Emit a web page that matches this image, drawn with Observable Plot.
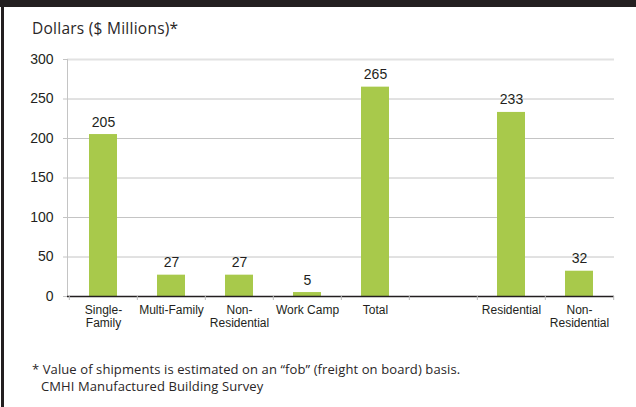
<!DOCTYPE html>
<html>
<head>
<meta charset="utf-8">
<script src="https://cdn.jsdelivr.net/npm/d3@7"></script>
<script src="https://cdn.jsdelivr.net/npm/@observablehq/plot@0.6"></script>
<style>
  html, body { margin: 0; padding: 0; background: #fff; }
  #wrap { position: relative; width: 636px; height: 407px; overflow: hidden; background: #fff; }
  #topbar { position: absolute; left: 0; top: 0; width: 636px; height: 7px; background: #231f20; }
  #leftbar { position: absolute; left: 1px; top: 0; width: 3px; height: 407px; background: #231f20; }
  #title { position: absolute; left: 32px; top: 17px; font-family: "Open Sans", sans-serif; font-size: 15.5px; letter-spacing: 0.25px; color: #2a2627; white-space: nowrap; }
  #chart { position: absolute; left: 0; top: 0; }
  .note { position: absolute; font-family: "Open Sans", sans-serif; font-size: 13px; letter-spacing: 0.1px; color: #2a2627; white-space: nowrap; }
</style>
</head>
<body>
<div id="wrap">
  <div id="topbar"></div>
  <div id="leftbar"></div>
  <div id="chart"></div>
  <div id="title">Dollars ($ Millions)*</div>
  <div class="note" style="left:32px; top:360px;">* Value of shipments is estimated on an “fob” (freight on board) basis.</div>
  <div class="note" style="left:41px; top:377px;">CMHI Manufactured Building Survey</div>
</div>
<script>
const keys = ["sf", "mf", "nr1", "wc", "total", "gap", "res", "nr2"];
const labels = ["Single-\nFamily", "Multi-Family", "Non-\nResidential", "Work Camp", "Total", "", "Residential", "Non-\nResidential"];
const values = [205, 27, 27, 5, 265, null, 233, 32];
const yTicks = [0, 50, 100, 150, 200, 250, 300];

const data = keys.map((k, i) => ({key: k, label: labels[i], value: values[i]})).filter(d => d.value != null);
const labelOf = new Map(keys.map((k, i) => [k, labels[i]]));

const W = 636, H = 340, mL = 67, mR = 22;
const step = (W - mL - mR) / keys.length;

const chart = Plot.plot({
  width: W,
  height: H,
  marginTop: 59,
  marginBottom: 44,
  marginLeft: mL,
  marginRight: mR,
  style: {fontFamily: "Arial, 'Liberation Sans', sans-serif", color: "#231f20", background: "transparent"},
  x: {domain: keys, paddingInner: 0.59, paddingOuter: 0.295, axis: null, label: null},
  y: {domain: [0, 300], axis: null, label: null},
  marks: [
    Plot.ruleY(yTicks.filter(t => t > 0 && t < 300), {stroke: "#c4c4c4", strokeWidth: 1}),
    Plot.ruleY([300], {stroke: "#e2e2e2", strokeWidth: 2}),
    Plot.frame({anchor: "left", stroke: "#c4c4c4"}),
    Plot.axisY({ticks: yTicks, tickSize: 4, tickPadding: 10, fontSize: 14, stroke: "#c4c4c4", fill: "#231f20", label: null}),
    Plot.barY(data, {x: "key", y: "value", fill: "#a8c94b"}),
    Plot.text(data, {x: "key", y: "value", text: d => String(d.value), lineAnchor: "bottom", dy: -8, fontSize: 14, fill: "#231f20"}),
    Plot.ruleY([0], {stroke: "#231f20", strokeWidth: 1.5}),
    Plot.axisX(keys, {tickSize: 4, dx: -step / 2, text: null, stroke: "#bbb", label: null}),
    Plot.axisX([keys[keys.length - 1]], {tickSize: 4, dx: step / 2, text: null, stroke: "#bbb", label: null}),
    Plot.axisX(keys, {tickSize: 0, tickPadding: 8, tickFormat: k => labelOf.get(k), fontSize: 12, lineHeight: 1.08, fill: "#231f20", label: null})
  ]
});
document.getElementById("chart").appendChild(chart);
</script>
</body>
</html>
